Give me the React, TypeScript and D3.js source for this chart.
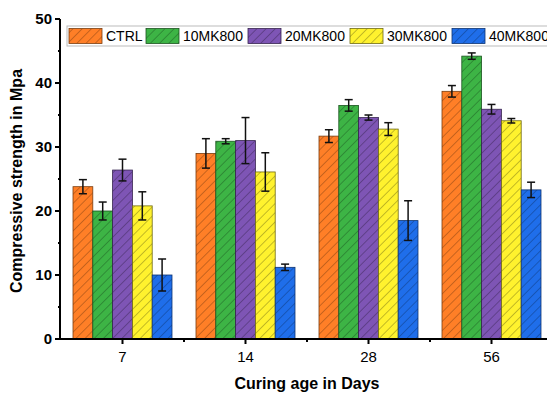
import React from "react";
import * as d3 from "d3";

const categories = ["7", "14", "28", "56"];
const seriesNames = ["CTRL", "10MK800", "20MK800", "30MK800", "40MK800"];
const ctrl = [23.8, 29.0, 31.7, 38.7];
const mk10 = [20.0, 30.9, 36.5, 44.2];
const mk20 = [26.4, 31.0, 34.6, 35.9];
const mk30 = [20.8, 26.1, 32.8, 34.1];
const mk40 = [10.0, 11.2, 18.5, 23.3];
const ctrlErr = [1.1, 2.3, 1.0, 0.9];
const mk10Err = [1.4, 0.4, 0.9, 0.5];
const mk20Err = [1.7, 3.6, 0.4, 0.75];
const mk30Err = [2.2, 3.0, 1.0, 0.35];
const mk40Err = [2.5, 0.5, 3.1, 1.2];
const yTicks = [0, 10, 20, 30, 40, 50];

const colors = ["#FF7F27", "#3DB445", "#7E55B5", "#FFF22E", "#1F6EEA"];
const strokes = ["#7a3d10", "#1c5420", "#36244f", "#6f6a14", "#0d3370"];

const values = [ctrl, mk10, mk20, mk30, mk40];
const errs = [ctrlErr, mk10Err, mk20Err, mk30Err, mk40Err];

const W = 547;
const H = 395;
const x0 = 61;
const x1 = 553;
const yBottom = 339;
const yTop = 19;

export default function App() {
  const x = d3.scaleBand<string>().domain(categories).range([x0, x1]).paddingInner(0).paddingOuter(0);
  const y = d3.scaleLinear().domain([0, 50]).range([yBottom, yTop]);
  const bw = 19.8;
  const groupW = bw * 5;
  const font = "'Liberation Sans', Arial, sans-serif";
  const minor = d3.range(5, 50, 10);

  const legendX = [69, 146, 248, 350, 452];

  return (
    <svg width={W} height={H} style={{ position: "absolute", left: 0, top: 0, background: "#fff" }} fontFamily={font}>
      <defs>
        {colors.map((c, i) => (
          <pattern key={i} id={`hatch${i}`} patternUnits="userSpaceOnUse" width={6.5} height={6.5} patternTransform="rotate(45)">
            <rect width={6.5} height={6.5} fill={c} />
            <line x1={0} y1={0} x2={0} y2={6.5} stroke={strokes[i]} strokeWidth={1} opacity={0.85} />
          </pattern>
        ))}
      </defs>
      <rect width={W} height={H} fill="#fff" />
      {categories.map((cat, ci) => {
        const cx = (x(cat) as number) + x.bandwidth() / 2;
        return (
          <g key={cat}>
            {values.map((vals, si) => {
              const bx = cx - groupW / 2 + si * bw;
              const v = vals[ci];
              const e = errs[si][ci];
              const mid = bx + bw / 2;
              return (
                <g key={si}>
                  <rect x={bx} y={y(v)} width={bw} height={yBottom - y(v)} fill={`url(#hatch${si})`} stroke={strokes[si]} strokeWidth={0.8} />
                  <line x1={mid} x2={mid} y1={y(v + e)} y2={y(v - e)} stroke="#111" strokeWidth={1.5} />
                  <line x1={mid - 4} x2={mid + 4} y1={y(v + e)} y2={y(v + e)} stroke="#111" strokeWidth={1.5} />
                  <line x1={mid - 4} x2={mid + 4} y1={y(v - e)} y2={y(v - e)} stroke="#111" strokeWidth={1.5} />
                </g>
              );
            })}
          </g>
        );
      })}
      {/* y axis */}
      <line x1={x0 - 1} x2={x0 - 1} y1={yTop} y2={yBottom + 1} stroke="#000" strokeWidth={2} />
      {yTicks.map((t) => (
        <g key={t}>
          <line x1={x0 - 6} x2={x0 - 1} y1={y(t)} y2={y(t)} stroke="#000" strokeWidth={2} />
          <text x={x0 - 9} y={y(t) + 5} textAnchor="end" fontSize={15} fontWeight="bold">{t}</text>
        </g>
      ))}
      {minor.map((t) => (
        <line key={t} x1={x0 - 3} x2={x0 - 1} y1={y(t)} y2={y(t)} stroke="#000" strokeWidth={2} />
      ))}
      {/* x axis */}
      <line x1={x0 - 2} x2={x1} y1={yBottom} y2={yBottom} stroke="#000" strokeWidth={2} />
      {categories.map((cat) => {
        const cx = (x(cat) as number) + x.bandwidth() / 2;
        return (
          <g key={cat}>
            <line x1={cx} x2={cx} y1={yBottom} y2={yBottom + 5} stroke="#000" strokeWidth={2} />
            <text x={cx} y={yBottom + 23} textAnchor="middle" fontSize={15}>{cat}</text>
          </g>
        );
      })}
      {categories.slice(1).map((cat) => (
        <line key={cat} x1={x(cat) as number} x2={x(cat) as number} y1={yBottom} y2={yBottom + 3} stroke="#000" strokeWidth={2} />
      ))}
      <text x={(x0 + x1) / 2} y={389} textAnchor="middle" fontSize={16} fontWeight="bold">Curing age in Days</text>
      <text transform={`translate(22, ${(yTop + yBottom) / 2 + 2}) rotate(-90)`} textAnchor="middle" fontSize={16} fontWeight="bold">Compressive strength in Mpa</text>
      {/* legend */}
      <rect x={67} y={26} width={500} height={20} fill="#fff" stroke="#bbb" strokeWidth={1} />
      {seriesNames.map((n, i) => (
        <g key={n}>
          <rect x={legendX[i]} y={28.5} width={33} height={15} fill={`url(#hatch${i})`} stroke={strokes[i]} strokeWidth={0.8} />
          <text x={legendX[i] + 37} y={41} fontSize={14}>{n}</text>
        </g>
      ))}
    </svg>
  );
}
